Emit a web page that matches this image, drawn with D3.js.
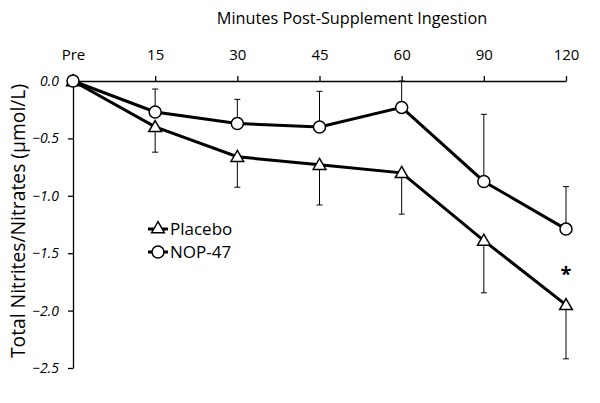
<!DOCTYPE html>
<html><head><meta charset="utf-8">
<script src="https://cdn.jsdelivr.net/npm/d3@7"></script>
<style>body{margin:0;background:#fff}</style>
</head><body><svg id="c" width="600" height="403"></svg>
<script>
const categories = ["Pre","15","30","45","60","90","120"];
const placebo = [0.0,-0.40,-0.66,-0.73,-0.80,-1.39,-1.95];
const placeboErr = [0,0.22,0.265,0.35,0.36,0.455,0.47];
const nop = [0.0,-0.27,-0.37,-0.40,-0.23,-0.875,-1.29];
const nopErr = [0,0.20,0.21,0.31,0.23,0.585,0.37];
const yTicks = [0.0,-0.5,-1.0,-1.5,-2.0,-2.5];

const svg = d3.select("#c");
const font = "'Open Sans', sans-serif";
const x = d3.scalePoint().domain(categories).range([73,566]);
const y = d3.scaleLinear().domain([0,-2.5]).range([81,368]);

// axes
const xa = svg.append("g").attr("transform","translate(0,81)")
  .call(d3.axisTop(x).tickSize(5).tickSizeOuter(0).tickPadding(16));
xa.attr("font-size",null).attr("font-family",null);
xa.selectAll("text").attr("font-family",font).attr("font-size",15).attr("fill","#000");
xa.selectAll("line,path").attr("stroke","#000").attr("stroke-width",1.3);

const ya = svg.append("g").attr("transform","translate(73,0)")
  .call(d3.axisLeft(y).tickValues(yTicks).tickFormat(d3.format(".1f")).tickSize(5).tickSizeOuter(0).tickPadding(9));
ya.attr("font-size",null).attr("font-family",null);
ya.selectAll("text").attr("font-family",font).attr("font-size",14).attr("font-style","italic").attr("fill","#000");
ya.selectAll("line,path").attr("stroke","#000").attr("stroke-width",1.3);

// error bars
function errBars(vals, errs, dir){
  const g = svg.append("g").attr("stroke","#000").attr("stroke-width",1);
  categories.forEach((c,i)=>{
    if(!errs[i]) return;
    const x0 = x(c), y0 = y(vals[i]), y1 = y(vals[i]+dir*errs[i]);
    g.append("line").attr("x1",x0).attr("x2",x0).attr("y1",y0).attr("y2",y1);
    g.append("line").attr("x1",x0-3).attr("x2",x0+3).attr("y1",y1).attr("y2",y1);
  });
}
errBars(nop,nopErr,1);
errBars(placebo,placeboErr,-1);

const line = d3.line().x((d,i)=>x(categories[i])).y(d=>y(d));
svg.append("path").datum(placebo).attr("d",line).attr("fill","none").attr("stroke","#000").attr("stroke-width",3);
svg.append("path").datum(nop).attr("d",line).attr("fill","none").attr("stroke","#000").attr("stroke-width",3);

const tri = d3.symbol().type(d3.symbolTriangle).size(70);
svg.append("g").selectAll("path").data(placebo).join("path")
  .attr("d",tri).attr("transform",(d,i)=>`translate(${x(categories[i])},${y(d)+1})`)
  .attr("fill","#fff").attr("stroke","#000").attr("stroke-width",1.5);
svg.append("g").selectAll("circle").data(nop).join("circle")
  .attr("cx",(d,i)=>x(categories[i])).attr("cy",d=>y(d)).attr("r",6)
  .attr("fill","#fff").attr("stroke","#000").attr("stroke-width",1.5);

// asterisk
svg.append("text").attr("x",x("120")).attr("y",y(placebo[6])-24).attr("text-anchor","middle")
  .attr("font-family",font).attr("font-size",20).attr("font-weight","bold").text("*");

// titles
svg.append("text").attr("x",352).attr("y",24).attr("text-anchor","middle")
  .attr("font-family",font).attr("font-size",16.3).text("Minutes Post-Supplement Ingestion");
svg.append("text").attr("transform","translate(25,221) rotate(-90)").attr("text-anchor","middle")
  .attr("font-family",font).attr("font-size",19.3).text("Total Nitrites/Nitrates (µmol/L)");

// legend
const leg = [{name:"Placebo", sym:"tri", y:229},{name:"NOP-47", sym:"circ", y:252}];
leg.forEach(l=>{
  svg.append("line").attr("x1",148).attr("x2",168).attr("y1",l.y).attr("y2",l.y).attr("stroke","#000").attr("stroke-width",3);
  if(l.sym==="tri") svg.append("path").attr("d",tri).attr("transform",`translate(158,${l.y})`).attr("fill","#fff").attr("stroke","#000").attr("stroke-width",1.5);
  else svg.append("circle").attr("cx",158).attr("cy",l.y).attr("r",6).attr("fill","#fff").attr("stroke","#000").attr("stroke-width",1.5);
  svg.append("text").attr("x",170).attr("y",l.y+6).attr("font-family",font).attr("font-size",17).text(l.name);
});
</script></body></html>
